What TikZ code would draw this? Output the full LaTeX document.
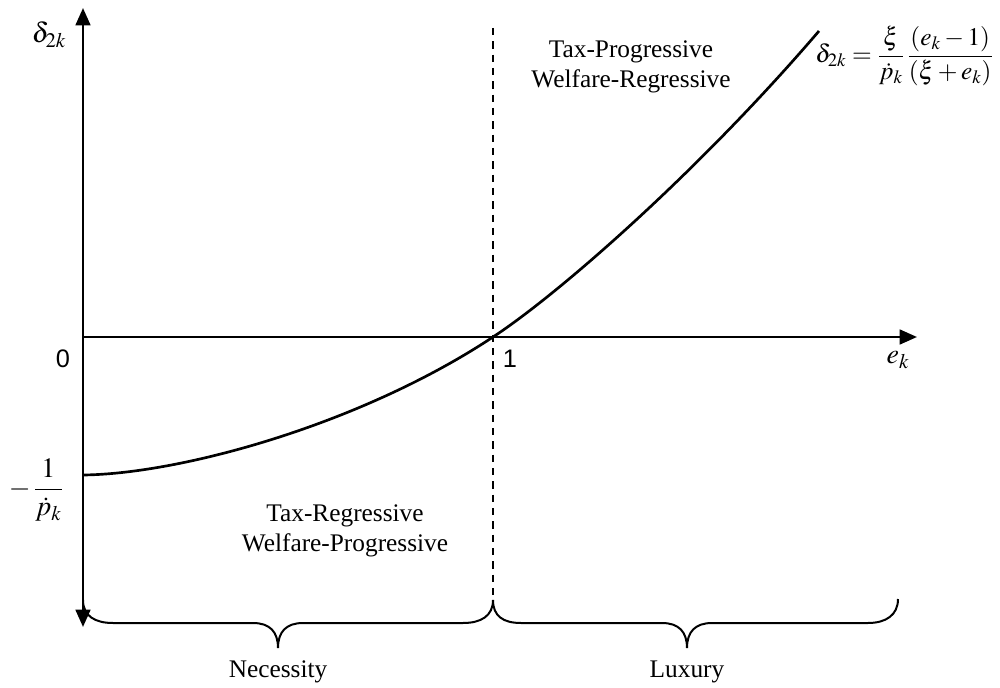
\documentclass[tikz,border=0pt]{standalone}
\usepackage{amssymb, mathtools, amsmath}
\usepackage{mathptmx}
\usepackage{fontspec}
\setmainfont{Liberation Serif}
\newfontfamily\axisfont{Liberation Sans}
\usepackage{tikz}
\usetikzlibrary{arrows.meta}

\tikzset{
  axisline/.style={line width=2pt, -{Triangle[width=11pt,length=13pt]}},
  region/.style={align=center, inner sep=0.75pt},
  bracepath/.style={line width=1.5pt},
  bigmath/.style={font=\fontsize{21}{24}\selectfont, inner sep=0.75pt},
}

\begin{document}
\begin{tikzpicture}[x=0.75pt,y=0.75pt,yscale=-1,xscale=1,
  every node/.style={font=\fontsize{19}{22}\selectfont}]
\useasboundingbox (0,0) rectangle (1000,688);

% Coordinates of the axes
\coordinate (origin) at (83,337);
\coordinate (ytop) at (83,8);
\coordinate (ybot) at (83,627);
\coordinate (xend) at (917,337);
\coordinate (onetop) at (493,28);
\coordinate (onebot) at (493,600);

%Shape: Axis 2D
\draw [axisline] (origin) -- (ytop);
\draw [axisline] (origin) -- (ybot);
\draw [axisline] (origin) -- (xend);

%Straight Lines (e_k = 1)
\draw [line width=1pt, dash pattern={on 5.5pt off 4.5pt}] (onetop) -- (onebot);

%Curve Lines
\draw [line width=2pt] (83,475) .. controls (180,474) and (360,425) .. (493,337) .. controls (560,293) and (700,170) .. (819,31);

%Shape: Brace (Necessity)
\draw [bracepath] (83,600) .. controls (83,616) and (95,623) .. (113,623) -- (253,623) .. controls (270,623) and (278,632) .. (278,648) .. controls (278,632) and (286,623) .. (303,623) -- (463,623) .. controls (481,623) and (493,616) .. (493,600);
%Shape: Brace (Luxury)
\draw [bracepath] (493,600) .. controls (493,616) and (503,623) .. (521,623) -- (662,623) .. controls (679,623) and (687,632) .. (687,648) .. controls (687,632) and (695,623) .. (712,623) -- (868,623) .. controls (886,623) and (898,615) .. (898,599);

% Text Node
\node (ylabel) [bigmath] at (49,35) {$\delta_{2k}$};
% Text Node
\node (zero) at (63,359) {\axisfont 0};
% Text Node
\node (one) at (510,359) {\axisfont 1};
% Text Node
\node (xlabel) [bigmath] at (898,360) {$e_k$};
% Text Node
\node (intercept) [bigmath] at (36,490) {$-\,\dfrac{1}{\dot{p}_k}$};
% Text Node
\node (formula) [anchor=west, inner sep=0pt] at (815,56) {$\delta_{2k}=\dfrac{\xi}{\dot{p}_k}\,\dfrac{(e_k-1)}{(\xi+e_k)}$};
% Text Node
\node (upper) [region] at (631,67) {Tax-Progressive\\Welfare-Regressive};
% Text Node
\node (lower) [region] at (345,531) {Tax-Regressive\\Welfare-Progressive};
% Text Node
\node (necessity) at (278,672) {Necessity};
% Text Node
\node (luxury) at (687,672) {Luxury};

\end{tikzpicture}
\end{document}
